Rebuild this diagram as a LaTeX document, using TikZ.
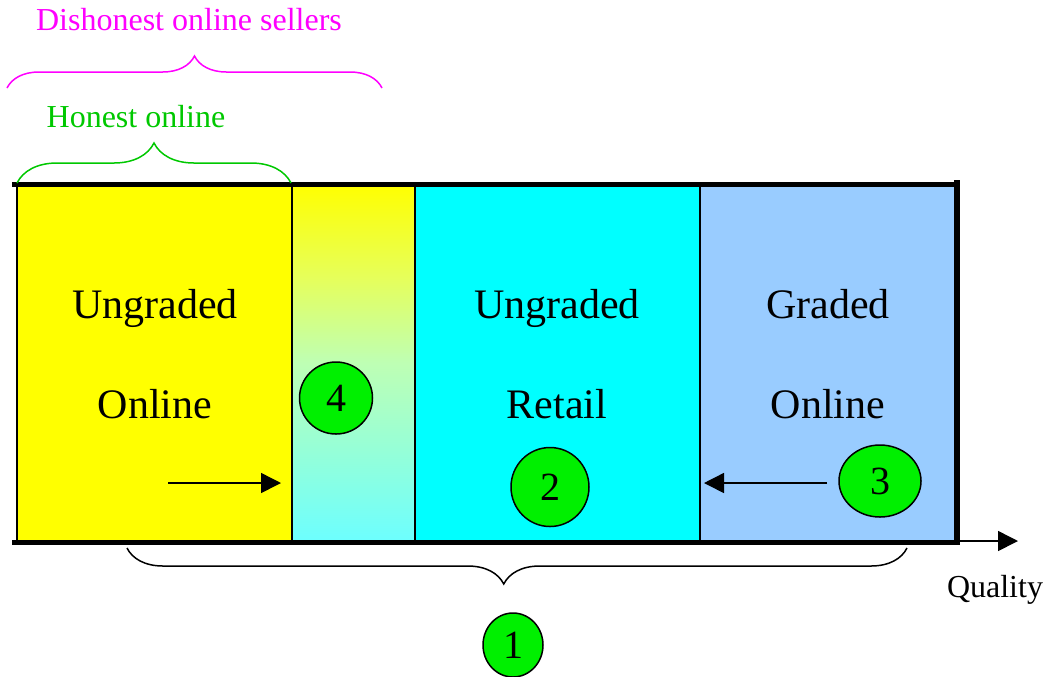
\documentclass[tikz,border=0pt]{standalone}
\usepackage{fontspec}
\setmainfont{Liberation Serif}
\usetikzlibrary{arrows.meta,decorations.pathreplacing,shapes.geometric,positioning}

\definecolor{zoneyellow}{RGB}{255,255,0}
\definecolor{zonecyan}{RGB}{0,255,255}
\definecolor{zoneblue}{RGB}{153,204,255}
\definecolor{fadecyan}{RGB}{108,255,255}
\definecolor{fadelow}{RGB}{150,255,215}
\definecolor{fademid}{RGB}{190,255,180}
\definecolor{fadehigh}{RGB}{230,255,90}
\definecolor{markgreen}{RGB}{0,240,0}
\definecolor{bracegreen}{RGB}{0,200,0}
\definecolor{bracepink}{RGB}{255,0,255}

% yellow to pale cyan, drawn bottom to top
\pgfdeclareverticalshading{fade}{100bp}{color(0bp)=(fadecyan); color(25bp)=(fadecyan);
  color(38bp)=(fadelow); color(50bp)=(fademid); color(62bp)=(fadehigh);
  color(75bp)=(zoneyellow); color(100bp)=(zoneyellow)}

\tikzset{
  zone/.style={draw=black,line width=1pt},
  frame/.style={line width=2.5pt},
  big/.style={font=\fontsize{21}{25}\selectfont,anchor=base},
  small/.style={font=\fontsize{16}{19}\selectfont,anchor=base},
  marker/.style={ellipse,draw=black,line width=0.75pt,fill=markgreen,inner sep=0pt,
    font=\fontsize{20}{24}\selectfont},
  flow/.style={line width=0.75pt,-{Triangle[length=10pt,width=10pt]}},
  curly/.style={decorate,line width=0.75pt,decoration={brace,amplitude=#1}}
}

\begin{document}
\begin{tikzpicture}[x=0.5pt,y=-0.5pt]
		\useasboundingbox (0,0) rectangle (1048,676);
		% the four quality bands
		\fill[zoneyellow] (17,184) rectangle (292,542);
		\shade[shading=fade] (292,184) rectangle (415,542);
		\fill[zonecyan] (415,184) rectangle (700,542);
		\fill[zoneblue] (700,184) rectangle (957,542);
		\foreach \x in {17,292,415,700}{
			\draw[zone] (\x,184) -- (\x,542);
		}
		\draw[frame] (12,184) -- (960,184);
		\draw[frame] (12,542) -- (960,542);
		\draw[line width=3pt] (957,180) -- (957,545);
		% quality axis
		\coordinate (axis-start) at (960,541);
		\coordinate (axis-end) at (1018,541);
		\draw[flow] (axis-start) -- (axis-end);
		\node[small] (quality) at (995,597) {Quality};
		% band labels
		\foreach \n/\x/\a/\b in {ungraded-online/155/Ungraded/Online,
			ungraded-retail/557/Ungraded/Retail,graded-online/828/Graded/Online}{
			\node[big] (\n-top) at (\x,318) {\a};
			\node[big] (\n-bot) at (\x,418) {\b};
		}
		% numbered markers
		\foreach \i/\x/\y/\w/\h in {1/513/645/30/32,2/550/487/39/39.5,3/880/481/41/36,4/336/398/36.5/36}{
			\node[marker,minimum width=\w pt,minimum height=\h pt] (m\i) at (\x,\y) {\i};
		}
		% drift arrows
		\coordinate (drift-a) at (168,483);
		\coordinate (drift-b) at (281,483);
		\coordinate (drift-c) at (827,483);
		\coordinate (drift-d) at (704,483);
		\draw[flow] (drift-a) -- (drift-b);
		\draw[flow] (drift-c) -- (drift-d);
		% braces
		\coordinate (dish-l) at (7,88);
		\coordinate (dish-r) at (382,88);
		\coordinate (hon-l) at (17,183);
		\coordinate (hon-r) at (291,183);
		\coordinate (all-l) at (127,548);
		\coordinate (all-r) at (907,548);
		\draw[curly=16pt,bracepink] (dish-l) -- (dish-r);
		\draw[curly=20pt,bracegreen] (hon-l) -- (hon-r);
		\draw[curly=18pt,decoration={aspect=0.517}] (all-r) -- (all-l);
		\node[small,text=bracepink] (dishonest) at (189,30) {Dishonest online sellers};
		\node[small,text=bracegreen] (honest) at (136,127) {Honest online};
	\end{tikzpicture}
\end{document}
